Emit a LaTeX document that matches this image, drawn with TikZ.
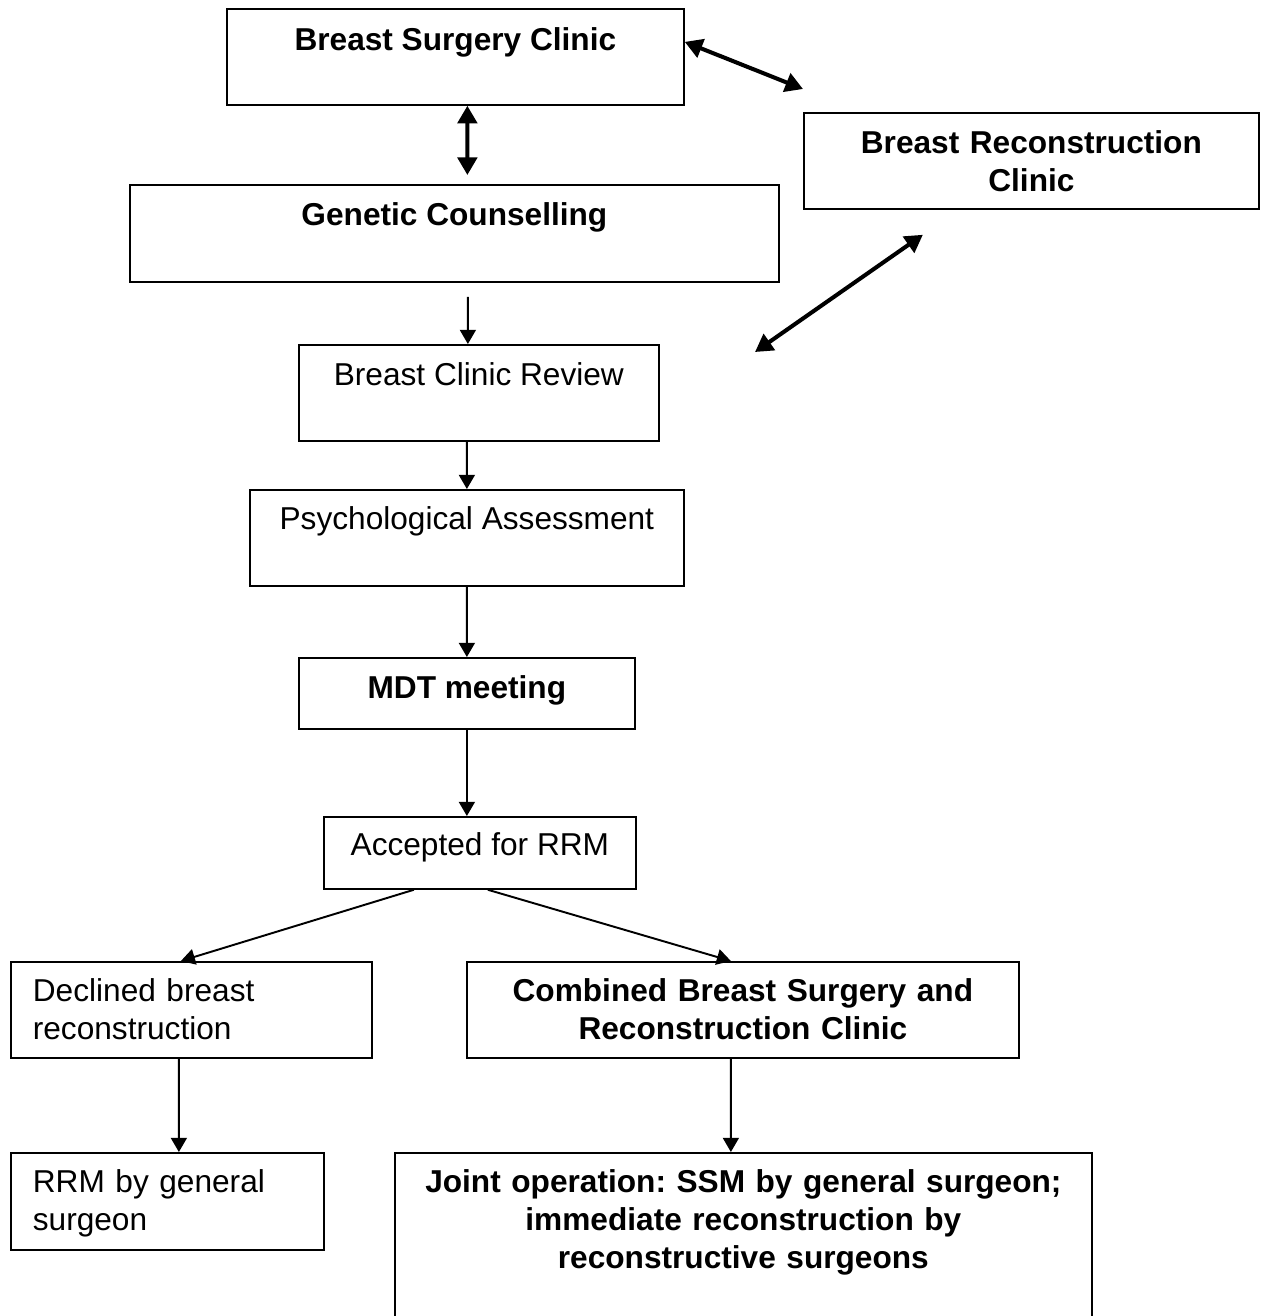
\documentclass[tikz,border=0pt]{standalone}
\usepackage{fontspec}
\setmainfont{Liberation Sans}
\usepackage{tikz}
\usetikzlibrary{arrows.meta}
\frenchspacing

\begin{document}
\begin{tikzpicture}[
x=0.2mm, y=-0.2mm,
caixa/.style={
draw,
line width=1pt,
inner xsep=0pt,
inner ysep=0pt,
anchor=north west,
font=\fontsize{18}{21.6}\selectfont
},
negrito/.style={caixa,font=\fontsize{18}{21.6}\selectfont\bfseries},
seta/.style={-{Triangle[width=9pt,length=8pt]},line width=1.1pt},
setadupla/.style={{Triangle[width=11pt,length=10pt]}-{Triangle[width=11pt,length=10pt]},line width=2.3pt}
]
\useasboundingbox (0,0) rectangle (1264,1316);

\node[negrito,minimum width=9.14cm,text height=0.84cm,text depth=1.08cm] (bsc) at (226,8)
{Breast Surgery Clinic};

\node[negrito,text width=9.10cm,align=center,text height=0.82cm,text depth=1.10cm] (brc) at (803,112)
{Breast Reconstruction\\Clinic};

\node[negrito,minimum width=12.98cm,text height=0.82cm,text depth=1.12cm] (gc) at (129,184)
{Genetic Counselling};

\node[caixa,minimum width=7.2cm,text height=0.82cm,text depth=1.10cm] (bcr) at (298,344)
{Breast Clinic Review};

\node[caixa,minimum width=8.68cm,text height=0.80cm,text depth=1.12cm] (pa) at (249,489)
{Psychological Assessment};

\node[negrito,minimum width=6.72cm,text height=0.82cm,text depth=0.60cm] (mdt) at (298,657)
{MDT meeting};

\node[caixa,minimum width=6.24cm,text height=0.78cm,text depth=0.66cm] (acc) at (323,816)
{Accepted for RRM};

\node[caixa,inner xsep=0.44cm,text width=6.34cm,align=left,text height=0.80cm,text depth=1.12cm] (dec) at (10,961)
{Declined breast\\reconstruction};

\node[negrito,text width=11.04cm,align=center,text height=0.80cm,text depth=1.12cm] (comb) at (466,961)
{Combined Breast Surgery and\\Reconstruction Clinic};

\node[caixa,inner xsep=0.44cm,text width=5.38cm,align=left,text height=0.80cm,text depth=1.14cm] (rrm) at (10,1152)
{RRM by general\\surgeon};

\node[negrito,text width=13.94cm,align=center,text height=0.80cm,text depth=2.96cm] (joint) at (394,1152)
{Joint operation: SSM by general surgeon;\\immediate reconstruction by\\reconstructive surgeons};

\coordinate (livre) at (755,352);

\draw[setadupla,shorten >=0.18cm] ([xshift=0.24cm]bsc.south)--([xshift=0.26cm]gc.north);
\draw[setadupla] ([yshift=0.3cm]bsc.east)--([yshift=0.46cm]brc.north west);
\draw[setadupla] ([xshift=-2.17cm,yshift=-0.5cm]brc.south)--(livre);

\draw[seta,shorten <=0.28cm] ([xshift=0.27cm]gc.south)--([xshift=-0.22cm]bcr.north);
\draw[seta] ([xshift=-0.24cm]bcr.south)--(pa.north);
\draw[seta] (pa.south)--(mdt.north);
\draw[seta] (mdt.south)--([xshift=-0.26cm]acc.north);
\draw[seta] ([xshift=-1.32cm]acc.south)--([xshift=-0.21cm]dec.north);
\draw[seta] ([xshift=0.16cm]acc.south)--([xshift=-0.24cm]comb.north);
\draw[seta] ([xshift=-0.25cm]dec.south)--([xshift=0.23cm]rrm.north);
\draw[seta] ([xshift=-0.24cm]comb.south)--([xshift=-0.25cm]joint.north);

\end{tikzpicture}
\end{document}
